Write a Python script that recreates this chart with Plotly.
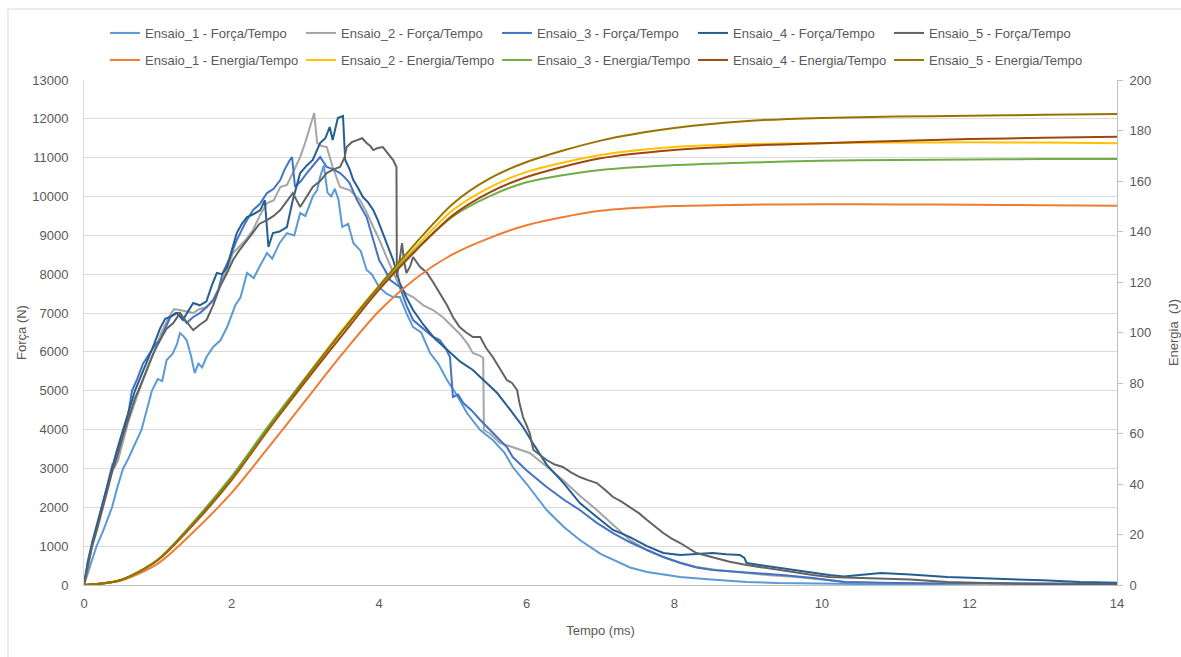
import plotly.graph_objects as go

# ---------------- data ----------------
nomes_forca = ["Ensaio_1 - Força/Tempo", "Ensaio_2 - Força/Tempo", "Ensaio_3 - Força/Tempo",
               "Ensaio_4 - Força/Tempo", "Ensaio_5 - Força/Tempo"]
nomes_energia = ["Ensaio_1 - Energia/Tempo", "Ensaio_2 - Energia/Tempo", "Ensaio_3 - Energia/Tempo",
                 "Ensaio_4 - Energia/Tempo", "Ensaio_5 - Energia/Tempo"]

# (tempo ms, força N)
forca_1 = [(0,0),(0.08,450),(0.17,1000),(0.25,1350),(0.32,1700),(0.38,2000),(0.45,2500),(0.53,3000),(0.6,3250),
           (0.68,3600),(0.78,4000),(0.85,4500),(0.92,5000),(1.0,5300),(1.06,5250),(1.12,5792),(1.2,5950),(1.26,6200),
           (1.3,6486),(1.35,6400),(1.39,6306),(1.45,5900),(1.5,5457),(1.55,5700),(1.6,5600),(1.66,5869),(1.75,6126),
           (1.85,6300),(1.94,6640),(2.05,7200),(2.12,7400),(2.21,8031),(2.3,7900),(2.38,8200),(2.48,8546),(2.55,8400),
           (2.65,8800),(2.75,9060),(2.85,9000),(2.93,9575),(3.0,9500),(3.1,10000),(3.16,10167),(3.2,10502),(3.25,10800),
           (3.3,10100),(3.35,10000),(3.4,10200),(3.45,9910),(3.5,9215),(3.58,9300),(3.65,8803),(3.75,8600),(3.83,8108),
           (3.9,8000),(4.0,7670),(4.1,7500),(4.19,7413),(4.28,7413),(4.37,7000),(4.46,6640),(4.57,6500),(4.69,5972),
           (4.8,5700),(4.92,5277),(5.05,4900),(5.19,4427),(5.37,3990),(5.54,3732),(5.7,3400),(5.81,3037),(6.0,2600),
           (6.27,1930),(6.5,1500),(6.72,1158),(7.0,800),(7.17,643),(7.4,450),(7.63,335),(8.08,206),(8.5,140),(8.98,77),
           (9.4,50),(9.88,40),(10.5,20),(11,15),(12,10),(13,5),(14,0)]

forca_2 = [(0,0),(0.05,500),(0.11,1000),(0.18,1500),(0.26,2100),(0.32,2600),(0.38,3100),(0.42,3050),(0.46,3200),
           (0.53,3700),(0.6,4200),(0.69,4700),(0.78,5200),(0.88,5700),(0.97,6100),(1.05,6500),(1.15,6900),(1.22,7100),
           (1.3,7078),(1.38,7050),(1.48,7000),(1.56,7100),(1.66,7156),(1.75,7300),(1.84,7670),(1.93,8100),(2.02,8546),
           (2.1,8700),(2.2,8900),(2.29,9138),(2.38,9500),(2.48,9833),(2.57,9900),(2.66,10245),(2.75,10300),(2.83,10605),
           (2.93,11017),(3.0,11400),(3.06,11789),(3.12,12150),(3.16,11377),(3.22,11300),(3.29,11274),(3.37,10760),
           (3.47,10245),(3.6,10167),(3.74,9910),(3.83,9600),(3.92,9215),(4.0,8900),(4.1,8443),(4.2,8000),(4.28,7670),
           (4.37,7500),(4.46,7413),(4.6,7200),(4.73,7078),(4.86,6900),(5.0,6640),(5.1,6450),(5.2,6200),(5.27,5972),
           (5.37,5900),(5.41,5850),(5.42,3990),(5.5,3900),(5.64,3655),(5.8,3550),(6.04,3398),(6.27,3050),(6.49,2703),
           (6.72,2300),(6.95,1930),(7.17,1550),(7.4,1158),(7.63,900),(7.85,720),(8.08,580),(8.3,463),(8.6,380),(8.98,309),
           (9.3,250),(9.66,206),(10.0,150),(10.34,77),(10.8,50),(11.5,30),(12.5,20),(13.5,10),(14,5)]

forca_3 = [(0,0),(0.05,600),(0.11,1100),(0.18,1600),(0.26,2200),(0.32,2600),(0.38,3000),(0.45,3500),(0.53,4000),
           (0.6,4400),(0.65,5000),(0.72,5300),(0.8,5700),(0.9,6000),(0.97,6200),(1.03,6306),(1.1,6600),(1.17,6898),
           (1.24,7000),(1.3,7000),(1.39,6744),(1.48,6900),(1.57,7000),(1.66,7150),(1.75,7336),(1.82,7600),(1.88,8031),
           (1.97,8400),(2.07,8880),(2.18,9300),(2.29,9652),(2.38,9800),(2.48,10090),(2.57,10200),(2.66,10425),
           (2.72,10700),(2.79,10940),(2.82,11017),(2.86,10245),(2.94,10400),(3.02,10605),(3.1,10800),(3.2,11017),
           (3.29,10760),(3.38,10700),(3.47,10605),(3.53,10500),(3.6,10348),(3.7,9910),(3.83,9472),(3.92,8880),
           (4.0,8365),(4.08,8100),(4.15,7850),(4.28,7670),(4.37,7200),(4.46,6821),(4.6,6600),(4.72,6400),(4.82,6306),
           (4.9,6100),(4.96,5869),(5.0,4839),(5.07,4900),(5.14,4685),(5.25,4500),(5.37,4247),(5.55,3900),(5.73,3552),
           (5.81,3295),(6.0,2950),(6.27,2522),(6.5,2200),(6.72,1930),(6.95,1600),(7.17,1338),(7.4,1100),(7.63,900),
           (7.85,720),(8.08,566),(8.3,450),(8.52,386),(8.85,340),(9.2,309),(9.5,250),(9.88,180),(10.3,80),(10.8,60),
           (11.5,40),(12.2,50),(13,40),(14,30)]

forca_4 = [(0,0),(0.05,550),(0.11,1050),(0.18,1550),(0.26,2150),(0.32,2600),(0.38,3000),(0.45,3450),(0.53,4000),
           (0.61,4500),(0.69,5000),(0.78,5400),(0.87,5800),(0.95,6200),(1.03,6600),(1.1,6850),(1.17,6900),(1.26,7000),
           (1.34,6820),(1.41,7050),(1.48,7258),(1.57,7200),(1.66,7300),(1.73,7700),(1.8,8031),(1.87,8000),(1.94,8185),
           (2.0,8600),(2.07,9060),(2.14,9300),(2.21,9472),(2.3,9550),(2.39,9652),(2.45,9910),(2.48,9200),(2.5,8700),
           (2.56,9060),(2.65,9100),(2.75,9215),(2.83,9910),(2.93,10605),(3.02,10800),(3.1,10940),(3.2,11377),
           (3.27,11500),(3.33,11789),(3.37,11454),(3.44,12020),(3.51,12072),(3.53,11500),(3.54,10940),(3.6,10700),
           (3.65,10425),(3.72,10200),(3.78,9987),(3.85,9850),(3.92,9652),(3.98,9400),(4.05,9060),(4.12,8700),
           (4.19,8365),(4.28,7773),(4.37,7400),(4.46,7078),(4.6,6700),(4.75,6350),(4.92,6049),(5.1,5750),(5.27,5534),
           (5.45,5200),(5.6,4942),(5.78,4500),(5.95,4067),(6.1,3600),(6.27,3100),(6.5,2625),(6.72,2110),(6.95,1750),
           (7.17,1416),(7.4,1235),(7.63,1000),(7.85,823),(8.08,772),(8.3,800),(8.52,823),(8.7,790),(8.89,772),
           (8.95,700),(8.98,566),(9.2,500),(9.43,437),(9.65,380),(9.88,309),(10.1,257),(10.3,220),(10.8,309),
           (11.2,270),(11.7,206),(12.1,180),(12.6,154),(13.0,120),(13.5,77),(14,60)]

forca_5 = [(0,0),(0.05,500),(0.11,1000),(0.18,1450),(0.26,2000),(0.32,2450),(0.38,2900),(0.45,3300),(0.53,3850),
           (0.61,4300),(0.69,4800),(0.78,5200),(0.87,5600),(0.95,6000),(1.03,6300),(1.12,6600),(1.21,6744),(1.3,7000),
           (1.38,6800),(1.48,6564),(1.57,6700),(1.66,6821),(1.75,7200),(1.84,7670),(1.93,8000),(2.02,8365),(2.1,8600),
           (2.2,8850),(2.29,9060),(2.38,9300),(2.48,9395),(2.57,9500),(2.66,9652),(2.75,9900),(2.83,10090),(2.93,9730),
           (3.02,10000),(3.1,10245),(3.2,10400),(3.29,10605),(3.38,10700),(3.47,10760),(3.53,11000),(3.56,11274),
           (3.63,11400),(3.7,11454),(3.77,11500),(3.83,11377),(3.88,11300),(3.92,11197),(3.98,11250),(4.05,11274),
           (4.12,11100),(4.19,10940),(4.235,10760),(4.24,7928),(4.28,8400),(4.31,8803),(4.34,8300),(4.37,8031),
           (4.42,8200),(4.46,8443),(4.55,8200),(4.65,8031),(4.73,7800),(4.82,7516),(4.92,7200),(5.0,6898),(5.09,6640),
           (5.18,6500),(5.27,6383),(5.37,6383),(5.45,6100),(5.54,5869),(5.63,5600),(5.73,5277),(5.8,5200),(5.87,5019),
           (5.9,4700),(5.95,4324),(6.0,4100),(6.04,3912),(6.09,3475),(6.18,3350),(6.27,3217),(6.38,3100),(6.49,3037),
           (6.6,2900),(6.72,2780),(6.83,2700),(6.95,2625),(7.06,2450),(7.17,2265),(7.28,2150),(7.4,2008),(7.52,1850),
           (7.63,1673),(7.74,1500),(7.85,1338),(7.96,1200),(8.08,1081),(8.3,823),(8.52,720),(8.75,600),(8.98,515),
           (9.2,450),(9.43,386),(9.65,330),(9.88,257),(10.1,206),(10.4,190),(10.8,180),(11.2,140),(11.7,77),
           (12.2,50),(12.6,30),(13.2,20),(14,10)]

# energia (J) at common times (ms)
tempo_energia = [0, 0.5, 1, 1.5, 2, 2.5, 3, 3.5, 4, 4.5, 5, 5.5, 6, 7, 8, 9, 10, 11, 12, 13, 14]
energia_1 = [0, 1.8, 8.5, 21.5, 36.5, 54.5, 73, 91.5, 108.5, 121.5, 131, 137.5, 142.5, 148.2, 150.1, 150.6, 150.8, 150.7, 150.6, 150.4, 150.2]
energia_2 = [0, 2, 10, 25, 42.5, 62.5, 82, 101, 118.5, 134, 148.5, 157.5, 163.6, 170.3, 173.5, 174.6, 175, 175.2, 175.3, 175.2, 175]
energia_3 = [0, 2, 10, 25.5, 43, 63, 82, 100.5, 118, 133, 146, 154, 159.5, 164.4, 166.3, 167.3, 168, 168.3, 168.5, 168.7, 168.7]
energia_4 = [0, 2, 9.8, 24.5, 41.5, 61.5, 80.5, 99, 117, 132.5, 146.5, 155.5, 161.6, 169, 172.3, 174, 175, 175.8, 176.6, 177.1, 177.5]
energia_5 = [0, 2, 10, 25, 42, 62, 81.5, 100.5, 118.5, 135.5, 151, 161, 167.5, 176, 181, 183.8, 185, 185.5, 185.8, 186.2, 186.5]

ticks_x = [0, 2, 4, 6, 8, 10, 12, 14]

# ---------------- styles ----------------
cores_forca = ["#5B9BD5", "#A5A5A5", "#4472C4", "#255E91", "#636363"]
cores_energia = ["#ED7D31", "#FFC000", "#70AD47", "#9E480E", "#997300"]
FONT = "Liberation Sans, Arial, sans-serif"
TXT = "#595959"

fig = go.Figure()

for nome, pts, cor in zip(nomes_forca, [forca_1, forca_2, forca_3, forca_4, forca_5], cores_forca):
    fig.add_trace(go.Scatter(
        x=[p[0] for p in pts], y=[p[1] for p in pts], mode="lines", name=nome,
        line=dict(color=cor, width=2), yaxis="y", legend="legend"))

for nome, vals, cor in zip(nomes_energia, [energia_1, energia_2, energia_3, energia_4, energia_5], cores_energia):
    fig.add_trace(go.Scatter(
        x=tempo_energia, y=vals, mode="lines", name=nome,
        line=dict(color=cor, width=2, shape="spline", smoothing=0.8), yaxis="y2", legend="legend2"))

W, H = 1181, 657
ML, MR, MT, MB = 84, 64, 80, 72
PW, PH = W - ML - MR, H - MT - MB

def px_x(px):
    return (px - ML) / PW

def px_y(py):
    return (H - MB - py) / PH

leg_common = dict(orientation="h", xanchor="left", yanchor="middle",
                  entrywidth=151, entrywidthmode="pixels", font=dict(size=13, color=TXT),
                  bgcolor="rgba(0,0,0,0)")

fig.update_layout(
    width=W, height=H,
    margin=dict(l=ML, r=MR, t=MT, b=MB, autoexpand=False),
    paper_bgcolor="white", plot_bgcolor="white",
    font=dict(family=FONT, size=13, color=TXT),
    xaxis=dict(range=[0, 14], tickvals=ticks_x, showgrid=False, zeroline=False, automargin=False,
               showline=True, linecolor="#BFBFBF", linewidth=1, ticks="",
               ticklabelstandoff=6,
               title=dict(text="Tempo (ms)", font=dict(size=13, color=TXT), standoff=16)),
    yaxis=dict(range=[0, 13000], dtick=1000, tickformat="d", showgrid=True, gridcolor="#D9D9D9", gridwidth=1,
               zeroline=False, showline=True, linecolor="#D9D9D9", linewidth=1, ticks="", automargin=False,
               ticklabelstandoff=12,
               title=dict(text="Força (N)", font=dict(size=13, color=TXT), standoff=2)),
    yaxis2=dict(range=[0, 200], dtick=20, overlaying="y", side="right", showgrid=False, automargin=False,
                zeroline=False, showline=True, linecolor="#BFBFBF", linewidth=1,
                ticks="outside", ticklen=5, tickcolor="#BFBFBF", ticklabelstandoff=4,
                title=dict(text="Energia  (J)", font=dict(size=13, color=TXT), standoff=18)),
    legend=dict(x=px_x(105), y=px_y(33), **leg_common),
    legend2=dict(x=px_x(105), y=px_y(60), **leg_common),
    shapes=[dict(type="rect", xref="paper", yref="paper", layer="below",
                 x0=px_x(8), x1=px_x(1190), y0=px_y(666), y1=px_y(9),
                 line=dict(color="#D9D9D9", width=1), fillcolor="rgba(0,0,0,0)")],
    showlegend=True,
)

fig.write_html("out.html")
